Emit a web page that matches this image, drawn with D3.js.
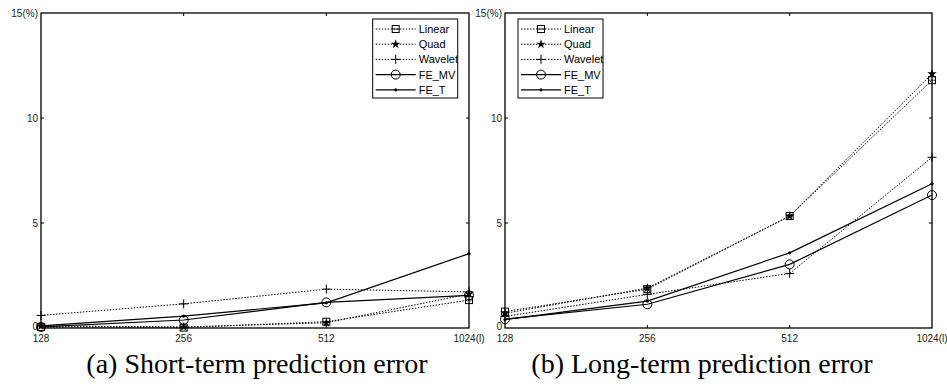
<!DOCTYPE html>
<html>
<head>
<meta charset="utf-8">
<script src="https://cdn.jsdelivr.net/npm/d3@7"></script>
<style>
 body { margin:0; background:#fff; }
 text { font-family: "Liberation Sans", Arial, sans-serif; }
</style>
</head>
<body>
<svg id="fig" width="947" height="387"></svg>
<script>
var sizes = ["128", "256", "512", "1024"];
var sizeLabels = ["128", "256", "512", "1024(l)"];
var yTicks = [0, 5, 10, 15];
var yTickLabels = ["0", "5", "10", "15(%)"];
var seriesNames = ["Linear", "Quad", "Wavelet", "FE_MV", "FE_T"];

// short-term
var shortLinear  = [0.05, 0.02, 0.3, 1.33];
var shortQuad    = [0.1, 0.05, 0.25, 1.62];
var shortWavelet = [0.6, 1.15, 1.85, 1.72];
var shortFEMV    = [0.05, 0.38, 1.22, 1.55];
var shortFET     = [0.1, 0.57, 1.2, 3.54];

// long-term
var longLinear  = [0.78, 1.85, 5.33, 11.8];
var longQuad    = [0.7, 1.9, 5.33, 12.1];
var longWavelet = [0.55, 1.6, 2.6, 8.13];
var longFEMV    = [0.42, 1.13, 3.03, 6.33];
var longFET     = [0.4, 1.28, 3.58, 6.87];

var captions = ["(a) Short-term prediction error", "(b) Long-term prediction error"];

var styles = {
  Linear:  {dash: "1.5,1.5", marker: "square"},
  Quad:    {dash: "1.5,1.5", marker: "star"},
  Wavelet: {dash: "1.5,1.5", marker: "plus"},
  FE_MV:   {dash: null, marker: "circle"},
  FE_T:    {dash: null, marker: "dot"}
};

var svg = d3.select("#fig");

function draw_marker(g, type, cx, cy) {
  if (type == "square") {
    g.append("rect").attr("x", cx - 3.5).attr("y", cy - 3.5).attr("width", 7).attr("height", 7)
      .attr("fill", "none").attr("stroke", "#000").attr("stroke-width", 1);
    g.append("line").attr("x1", cx - 3.5).attr("x2", cx + 3.5).attr("y1", cy).attr("y2", cy)
      .attr("stroke", "#000").attr("stroke-width", 0.8);
  } else if (type == "star") {
    g.append("path").attr("d", d3.symbol().type(d3.symbolStar).size(28)())
      .attr("transform", "translate(" + cx + "," + cy + ")").attr("fill", "#000");
  } else if (type == "plus") {
    g.append("path").attr("d", "M" + (cx - 4.5) + "," + cy + "H" + (cx + 4.5) + "M" + cx + "," + (cy - 4.5) + "V" + (cy + 4.5))
      .attr("stroke", "#000").attr("stroke-width", 1);
  } else if (type == "circle") {
    g.append("circle").attr("cx", cx).attr("cy", cy).attr("r", 4.5)
      .attr("fill", "none").attr("stroke", "#000").attr("stroke-width", 1);
  } else {
    g.append("circle").attr("cx", cx).attr("cy", cy).attr("r", 1.6).attr("fill", "#000");
  }
}

function draw_panel(left, right, top, bottom, data, caption, captionX) {
  var x = d3.scalePoint().domain(sizes).range([left, right]);
  var y = d3.scaleLinear().domain([0, 15]).range([bottom, top]);
  var g = svg.append("g");

  // frame
  g.append("rect").attr("x", left).attr("y", top).attr("width", right - left).attr("height", bottom - top)
    .attr("fill", "none").attr("stroke", "#000").attr("stroke-width", 1.3);

  // inward ticks
  yTicks.slice(1, 3).forEach(function(t) {
    g.append("line").attr("x1", left).attr("x2", left + 3).attr("y1", y(t)).attr("y2", y(t)).attr("stroke", "#000");
    g.append("line").attr("x1", right).attr("x2", right - 3).attr("y1", y(t)).attr("y2", y(t)).attr("stroke", "#000");
  });
  sizes.slice(1, 3).forEach(function(s) {
    g.append("line").attr("x1", x(s)).attr("x2", x(s)).attr("y1", bottom).attr("y2", bottom - 3).attr("stroke", "#000");
    g.append("line").attr("x1", x(s)).attr("x2", x(s)).attr("y1", top).attr("y2", top + 3).attr("stroke", "#000");
  });

  // tick labels
  g.selectAll(".yl").data(yTicks).enter().append("text")
    .attr("x", left - 3).attr("y", function(d) { return d == 0 ? y(d) + 2 : y(d) + 3.5; })
    .attr("text-anchor", "end").attr("font-size", 10).attr("fill", "#222")
    .text(function(d, i) { return yTickLabels[i]; });
  g.selectAll(".xl").data(sizes).enter().append("text")
    .attr("x", function(d) { return x(d); }).attr("y", bottom + 14)
    .attr("text-anchor", "middle").attr("font-size", 10).attr("fill", "#222")
    .text(function(d, i) { return sizeLabels[i]; });

  var line = d3.line().x(function(d, i) { return x(sizes[i]); }).y(function(d) { return y(d); });

  seriesNames.forEach(function(name, k) {
    var st = styles[name];
    g.append("path").datum(data[k]).attr("d", line)
      .attr("fill", "none").attr("stroke", "#000").attr("stroke-width", st.dash ? 1 : 1.2)
      .attr("stroke-dasharray", st.dash);
    data[k].forEach(function(v, i) { draw_marker(g, st.marker, x(sizes[i]), y(v)); });
  });

  // legend
  var lx = left + (right - left) * 0.775, ly = top + 6;
  if (left > 400) lx = left + 13;
  g.append("rect").attr("x", lx).attr("y", ly).attr("width", 85).attr("height", 79)
    .attr("fill", "#fff").attr("stroke", "#000").attr("stroke-width", 1);
  seriesNames.forEach(function(name, k) {
    var st = styles[name];
    var ry = ly + 10 + k * 15.2;
    g.append("line").attr("x1", lx + 3).attr("x2", lx + 43).attr("y1", ry).attr("y2", ry)
      .attr("stroke", "#000").attr("stroke-width", st.dash ? 1 : 1.2).attr("stroke-dasharray", st.dash);
    draw_marker(g, st.marker, lx + 23, ry);
    g.append("text").attr("x", lx + 46).attr("y", ry + 4).attr("font-size", 11).text(name);
  });

  svg.append("text").attr("x", captionX).attr("y", 373).attr("text-anchor", "middle")
    .attr("font-size", 28)
    .style("font-family", "'Liberation Serif', 'Times New Roman', serif")
    .text(caption);
}

draw_panel(41, 469, 13, 328, [shortLinear, shortQuad, shortWavelet, shortFEMV, shortFET], captions[0], 257);
draw_panel(505, 932, 13, 328, [longLinear, longQuad, longWavelet, longFEMV, longFET], captions[1], 702);
</script>
</body>
</html>
